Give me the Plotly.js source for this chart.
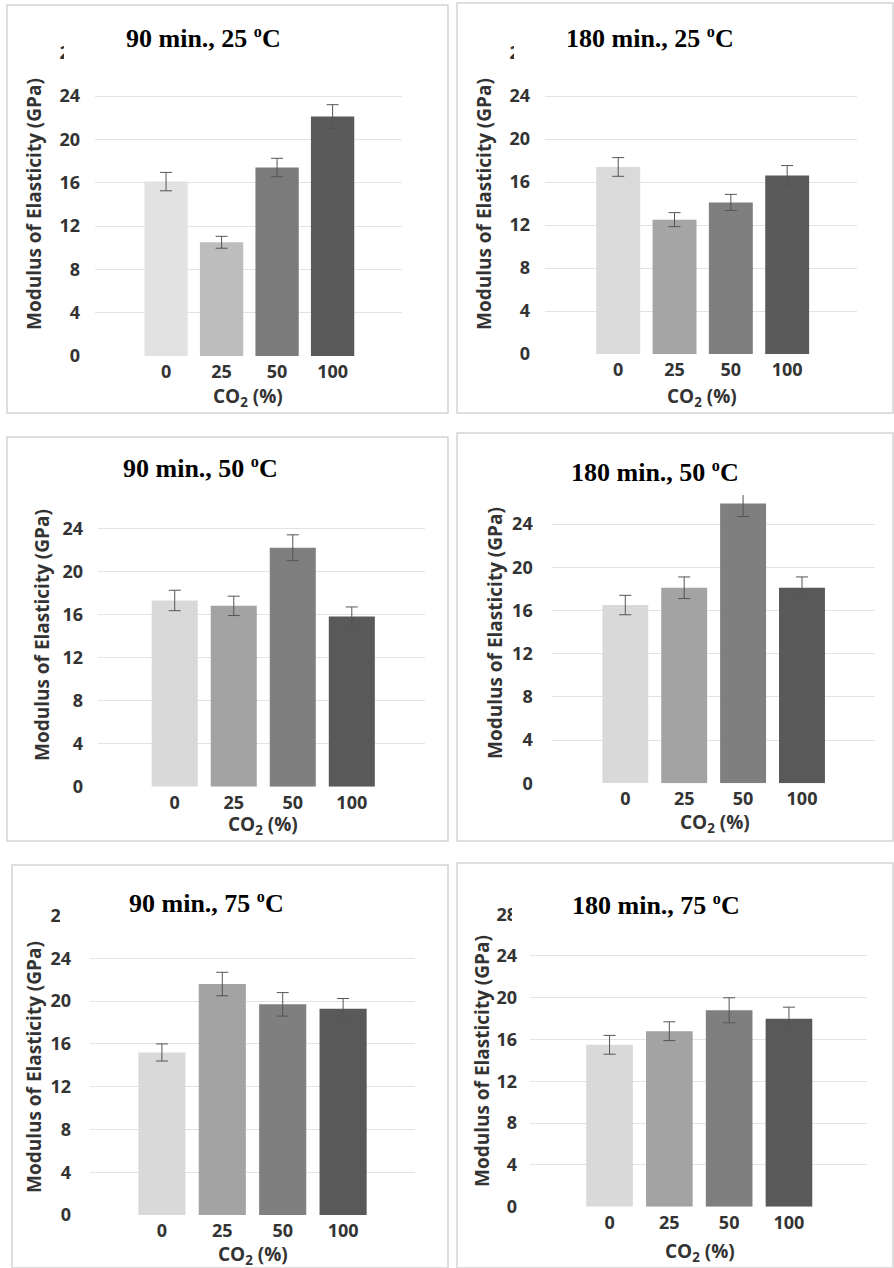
<!DOCTYPE html>
<html>
<head>
<meta charset="utf-8">
<script src="https://cdn.plot.ly/plotly-3.0.1.min.js"></script>
<style>html,body{margin:0;padding:0;background:#fff;}#chart{width:894px;height:1268px;}</style>
</head>
<body>
<div id="chart"></div>
<script>
// ---- data ----
const categories = ['0', '25', '50', '100'];
const yTickValues = [0, 4, 8, 12, 16, 20, 24, 28];
const yTickLabels = ['0', '4', '8', '12', '16', '20', '24', '28'];
const deg = '<span style="font-size:23px"><sup>o</sup></span>';
const panelTitles = ['90 min., 25 ' + deg + 'C', '180 min., 25 ' + deg + 'C',
                     '90 min., 50 ' + deg + 'C', '180 min., 50 ' + deg + 'C',
                     '90 min., 75 ' + deg + 'C', '180 min., 75 ' + deg + 'C'];
const yAxisTitle = 'Modulus of Elasticity (GPa)';
const xAxisTitle = 'CO<sub>2</sub> (%)';

const modulus_90_25  = [16.1, 10.5, 17.4, 22.1];
const error_90_25    = [0.85, 0.55, 0.85, 1.1];
const modulus_180_25 = [17.4, 12.5, 14.1, 16.6];
const error_180_25   = [0.87, 0.65, 0.75, 0.93];
const modulus_90_50  = [17.3, 16.8, 22.2, 15.8];
const error_90_50    = [0.95, 0.9, 1.2, 0.9];
const modulus_180_50 = [16.5, 18.1, 25.9, 18.1];
const error_180_50   = [0.9, 1.0, 1.2, 1.0];
const modulus_90_75  = [15.2, 21.6, 19.7, 19.3];
const error_90_75    = [0.8, 1.1, 1.1, 0.95];
const modulus_180_75 = [15.5, 16.8, 18.8, 18.0];
const error_180_75   = [0.9, 0.9, 1.2, 1.1];

const seriesValues = [modulus_90_25, modulus_180_25, modulus_90_50, modulus_180_50, modulus_90_75, modulus_180_75];
const seriesErrors = [error_90_25, error_180_25, error_90_50, error_180_50, error_90_75, error_180_75];

// ---- geometry / style (pixels) ----
const W = 894, H = 1268;
const fx = v => v / W;
const fy = v => 1 - v / H;

const panels = [
  {l: 95,  r: 402, top: 52.7,  bot: 356,    lo: -1.28, hi: 4.25, ysd: 14, box: [7, 5, 448, 413],    wb: [64, 12, 343, 70],   t: [203, 38],  yt: [34, 204],  xt: [248, 397],
   colors: ['#e2e2e2', '#bdbdbd', '#7b7b7b', '#5a5a5a']},
  {l: 545, r: 857, top: 53,    bot: 354,    lo: -1.30, hi: 4.24, ysd: 14, box: [457, 3, 893, 413],  wb: [514, 10, 793, 70],  t: [650, 38],  yt: [484, 204], xt: [702, 397],
   colors: ['#dadada', '#a5a5a5', '#7f7f7f', '#5a5a5a']},
  {l: 98,  r: 425, top: 485.3, bot: 786.7,  lo: -1.30, hi: 4.24, ysd: 14, box: [7, 437, 448, 841],  wb: [58, 445, 342, 502], t: [200, 468], yt: [42, 635],  xt: [263, 825],
   colors: ['#d9d9d9', '#a3a3a3', '#7f7f7f', '#595959']},
  {l: 551.7, r: 875, top: 480.8, bot: 783.3, lo: -1.25, hi: 4.24, ysd: 18, box: [457, 433, 893, 841], wb: [500, 440, 803, 495], t: [655, 472], yt: [495, 633], xt: [715, 823],
   colors: ['#d9d9d9', '#a3a3a3', '#7f7f7f', '#595959']},
  {l: 90,  r: 415, top: 915.6, bot: 1215,   lo: -1.19, hi: 4.19, ysd: 18, box: [12, 865, 448, 1268], wb: [60, 875, 353, 932], t: [206, 903], yt: [34, 1067], xt: [253, 1255],
   colors: ['#d9d9d9', '#a3a3a3', '#7f7f7f', '#595959']},
  {l: 530, r: 866.7, top: 914.2, bot: 1206.7, lo: -1.33, hi: 4.30, ysd: 12, box: [457, 863, 893, 1268], wb: [512, 870, 800, 930], t: [656, 905], yt: [482, 1061], xt: [700, 1252],
   colors: ['#d9d9d9', '#a3a3a3', '#7f7f7f', '#595959']}
];

const axisFont = {family: 'Open Sans, sans-serif', size: 18, color: '#333333', weight: 700};
const traces = [];
const layout = {
  width: W, height: H,
  margin: {l: 0, r: 0, t: 0, b: 0},
  paper_bgcolor: '#ffffff', plot_bgcolor: '#ffffff',
  showlegend: false, bargap: 0.22,
  shapes: [], annotations: []
};

panels.forEach((p, i) => {
  const n = i + 1;
  const xa = n === 1 ? 'x' : 'x' + n;
  const ya = n === 1 ? 'y' : 'y' + n;
  traces.push({
    type: 'bar', x: categories, y: seriesValues[i], xaxis: xa, yaxis: ya,
    textposition: 'none',
    marker: {color: p.colors, line: {width: 0}},
    error_y: {type: 'data', array: seriesErrors[i], visible: true, color: '#555555', thickness: 1, width: 6},
    hoverinfo: 'skip'
  });
  layout['xaxis' + (n === 1 ? '' : n)] = {
    domain: [fx(p.l), fx(p.r)], anchor: ya, type: 'category',
    range: [p.lo, p.hi], showgrid: false, zeroline: false, showline: false, ticks: '',
    tickfont: axisFont, ticklabelstandoff: 3, fixedrange: true
  };
  layout['yaxis' + (n === 1 ? '' : n)] = {
    domain: [fy(p.bot), fy(p.top)], anchor: xa, range: [0, 28],
    tickvals: yTickValues, ticktext: yTickLabels,
    showgrid: true, gridcolor: '#e3e3e3', gridwidth: 1, zeroline: false, showline: false, ticks: '',
    tickfont: axisFont, ticklabelstandoff: p.ysd, fixedrange: true
  };
  layout.shapes.push({type: 'rect', xref: 'paper', yref: 'paper', layer: 'below',
    x0: fx(p.box[0]), y0: fy(p.box[3]), x1: fx(p.box[2]), y1: fy(p.box[1]),
    line: {color: '#d4d4d4', width: 1.5}, fillcolor: 'rgba(0,0,0,0)'});
  layout.shapes.push({type: 'rect', xref: 'paper', yref: 'paper', layer: 'above',
    x0: fx(p.wb[0]), y0: fy(p.wb[3]), x1: fx(p.wb[2]), y1: fy(p.wb[1]),
    line: {width: 0}, fillcolor: '#ffffff'});
  layout.annotations.push({xref: 'paper', yref: 'paper', x: fx(p.t[0]), y: fy(p.t[1]),
    xanchor: 'center', yanchor: 'middle', showarrow: false, text: panelTitles[i],
    font: {family: 'Liberation Serif, Times New Roman, serif', size: 26, color: '#000000', weight: 700}});
  layout.annotations.push({xref: 'paper', yref: 'paper', x: fx(p.yt[0]), y: fy(p.yt[1]),
    xanchor: 'center', yanchor: 'middle', showarrow: false, textangle: -90, text: yAxisTitle,
    font: {family: 'Open Sans, sans-serif', size: 19, color: '#333333', weight: 700}});
  layout.annotations.push({xref: 'paper', yref: 'paper', x: fx(p.xt[0]), y: fy(p.xt[1]),
    xanchor: 'center', yanchor: 'middle', showarrow: false, text: xAxisTitle,
    font: {family: 'Open Sans, sans-serif', size: 19, color: '#333333', weight: 700}});
});

Plotly.newPlot('chart', traces, layout, {staticPlot: true, displayModeBar: false});
</script>
</body>
</html>
